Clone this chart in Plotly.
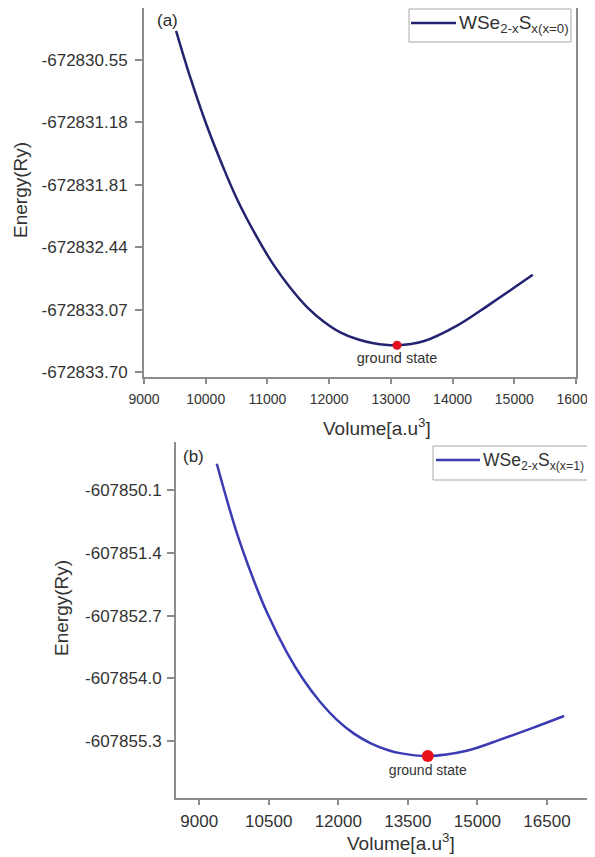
import plotly.graph_objects as go

# ---------------- data ----------------
vol_a = [9520, 9750, 10020, 10280, 10510, 10830, 11100, 11370, 11650, 11910,
         12180, 12460, 12720, 13100, 13530, 14080, 14620, 15300]
energy_a = [-672830.26, -672830.73, -672831.22, -672831.63, -672831.96, -672832.34,
            -672832.62, -672832.85, -672833.05, -672833.19, -672833.30, -672833.37,
            -672833.41, -672833.43, -672833.39, -672833.23, -672833.01, -672832.72]

vol_b = [9380, 9810, 10170, 10460, 10890, 11250, 11610, 11970, 12330, 12690,
         13080, 13330, 13930, 14770, 15490, 16210, 16870]
energy_b = [-607849.55, -607850.98, -607851.95, -607852.63, -607853.46, -607854.03,
            -607854.49, -607854.86, -607855.14, -607855.34, -607855.49, -607855.55,
            -607855.61, -607855.50, -607855.27, -607855.02, -607854.78]

ground_a_vol = [13100]
ground_a_energy = [-672833.43]
ground_b_vol = [13930]
ground_b_energy = [-607855.61]

xtick_a = [9000, 10000, 11000, 12000, 13000, 14000, 15000, 16000]
xtick_a_text = ["9000", "10000", "11000", "12000", "13000", "14000", "15000", "16000"]
ytick_a = [-672830.55, -672831.18, -672831.81, -672832.44, -672833.07, -672833.70]
ytick_a_text = ["-672830.55", "-672831.18", "-672831.81", "-672832.44", "-672833.07", "-672833.70"]

xtick_b = [9000, 10500, 12000, 13500, 15000, 16500]
xtick_b_text = ["9000", "10500", "12000", "13500", "15000", "16500"]
ytick_b = [-607850.1, -607851.4, -607852.7, -607854.0, -607855.3]
ytick_b_text = ["-607850.1", "-607851.4", "-607852.7", "-607854.0", "-607855.3"]

label_a = "WSe<sub>2-x</sub>S<sub>x(x=0)</sub>"
label_b = "WSe<sub>2-x</sub>S<sub>x(x=1)</sub>"

# ---------------- figure ----------------
W, H = 595, 857
OFF = 8  # page body margin
FONT = "Liberation Sans, Arial, sans-serif"
AXC = "#8c8c8c"
TXT = "#333333"
COL_A = "#23236f"
COL_B = "#3b3bb3"

def px(x):
    return (x - OFF) / W

def py(y):
    return 1 - (y - OFF) / H

fig = go.Figure()

fig.add_trace(go.Scatter(
    x=vol_a, y=energy_a, mode="lines", name=label_a, showlegend=False,
    line=dict(color=COL_A, width=2.5, shape="spline", smoothing=1.0),
    xaxis="x", yaxis="y"))
fig.add_trace(go.Scatter(
    x=ground_a_vol, y=ground_a_energy, mode="markers+text", showlegend=False,
    marker=dict(color="#e3121c", size=9),
    text=["ground state"], textposition="bottom center",
    textfont=dict(size=14.5, color=TXT, family=FONT),
    xaxis="x", yaxis="y"))

fig.add_trace(go.Scatter(
    x=vol_b, y=energy_b, mode="lines", name=label_b, showlegend=False,
    line=dict(color=COL_B, width=2.5, shape="spline", smoothing=1.0),
    xaxis="x2", yaxis="y2"))
fig.add_trace(go.Scatter(
    x=ground_b_vol, y=ground_b_energy, mode="markers+text", showlegend=False,
    marker=dict(color="#e8101a", size=12),
    text=["ground state"], textposition="bottom center",
    textfont=dict(size=14, color=TXT, family=FONT),
    xaxis="x2", yaxis="y2"))

common_axis = dict(showline=True, linecolor=AXC, linewidth=2, ticks="outside",
                   tickcolor=AXC, tickwidth=1.5, showgrid=False, zeroline=False,
                   automargin=False)

def ann(text, x, y, size, color=TXT, angle=0, xanchor="center"):
    return dict(text=text, x=px(x), y=py(y), xref="paper", yref="paper",
                showarrow=False, textangle=angle, xanchor=xanchor, yanchor="middle",
                font=dict(size=size, color=color, family=FONT))

shapes = [
    # legend (a)
    dict(type="rect", xref="paper", yref="paper", x0=px(409), x1=px(571), y0=py(42), y1=py(9),
         line=dict(color="#a8a8a8", width=1), fillcolor="white", layer="above"),
    dict(type="line", xref="paper", yref="paper", x0=px(411), x1=px(456), y0=py(23), y1=py(23),
         line=dict(color=COL_A, width=2.5), layer="above"),
    # legend (b)
    dict(type="rect", xref="paper", yref="paper", x0=px(433), x1=px(590), y0=py(480), y1=py(446),
         line=dict(color="#a8a8a8", width=1), fillcolor="white", layer="above"),
    dict(type="line", xref="paper", yref="paper", x0=px(436), x1=px(480), y0=py(460), y1=py(460),
         line=dict(color=COL_B, width=2.5), layer="above"),
]

fig.update_layout(
    width=W, height=H,
    margin=dict(l=0, r=0, t=0, b=0, autoexpand=False),
    paper_bgcolor="white", plot_bgcolor="white",
    font=dict(family=FONT, color=TXT),
    showlegend=False,
    xaxis=dict(domain=[px(144), px(576)], range=[9000, 16000], anchor="y",
               tickvals=xtick_a, ticktext=xtick_a_text, ticklen=5,
               tickfont=dict(size=14, color=TXT),
               ticklabelstandoff=3, ticklabeloverflow="allow", **common_axis),
    yaxis=dict(domain=[py(377), py(8)], range=[-672833.75, -672830.03], anchor="x",
               tickvals=ytick_a, ticktext=ytick_a_text, ticklen=7, mirror=True,
               tickfont=dict(size=17, color=TXT), ticklabelstandoff=4, **common_axis),
    xaxis2=dict(domain=[px(176), px(591)], range=[8500, 17450], anchor="y2",
                tickvals=xtick_b, ticktext=xtick_b_text, ticklen=5,
                tickfont=dict(size=17, color=TXT),
                ticklabelstandoff=2, **common_axis),
    yaxis2=dict(domain=[py(798), py(442)], range=[-607856.48, -607849.10], anchor="x2",
                tickvals=ytick_b, ticktext=ytick_b_text, ticklen=7, mirror=True,
                tickfont=dict(size=17, color=TXT), ticklabelstandoff=2, **common_axis),
    shapes=shapes,
    annotations=[
        ann("(a)", 167, 20, 17, "#2a2a2a"),
        ann("(b)", 193, 456, 17, "#2a2a2a"),
        ann("Volume[a.u<sup>3</sup>]", 377, 427, 19),
        ann("Volume[a.u<sup>3</sup>]", 401, 842, 19),
        ann("Energy(Ry)", 20, 190, 19, angle=-90),
        ann("Energy(Ry)", 61, 608, 19, angle=-90),
        ann(label_a, 457, 24, 19, xanchor="left"),
        ann(label_b, 481, 461, 17.5, xanchor="left"),
    ],
)

fig.write_html("out.html")
